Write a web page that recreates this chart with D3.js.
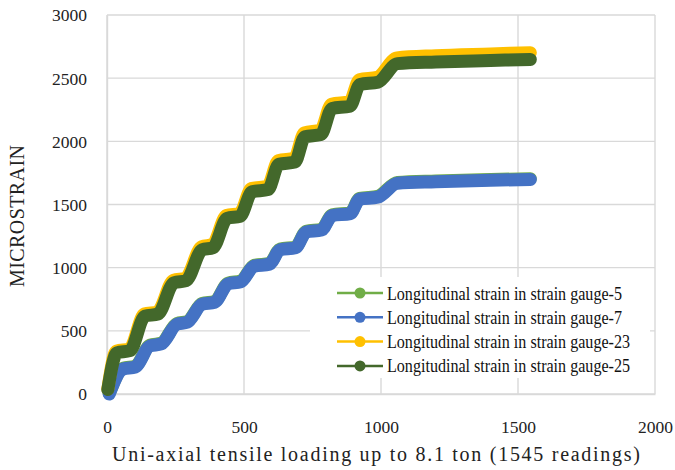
<!DOCTYPE html>
<html>
<head>
<meta charset="utf-8">
<script src="https://cdn.jsdelivr.net/npm/d3@7"></script>
<style>
  html, body { margin: 0; padding: 0; background: #fff; }
  svg { display: block; }
</style>
</head>
<body>
<svg id="chart" width="675" height="470"></svg>
<script>
// Axis ticks
const xTicks = [0, 500, 1000, 1500, 2000];
const yTicks = [0, 500, 1000, 1500, 2000, 2500, 3000];

// Strain readings: [reading number, microstrain]
const gauge5 = [[8,4],[59,204],[103,220],[157,386],[198,402],[255,558],[293,574],[347,716],[393,732],[442,878],[488,894],[537,1018],[593,1034],[632,1148],[688,1164],[727,1288],[783,1304],[822,1418],[888,1434],[922,1548],[988,1564],[1060,1675],[1200,1687],[1400,1698],[1545,1704]];
const gauge7 = [[8,0],[59,198],[103,214],[157,380],[198,396],[255,552],[293,568],[347,710],[393,726],[442,872],[488,888],[537,1012],[593,1028],[632,1142],[688,1158],[727,1282],[783,1298],[822,1412],[888,1428],[922,1542],[988,1558],[1060,1668],[1200,1680],[1400,1692],[1545,1698]];
const gauge23 = [[3,40],[34,339],[82,356],[136,633],[184,650],[242,900],[287,918],[345,1166],[385,1183],[436,1413],[484,1430],[527,1626],[586,1645],[625,1846],[684,1866],[720,2067],[779,2088],[819,2293],[885,2313],[921,2488],[987,2508],[1058,2660],[1200,2678],[1400,2692],[1545,2702]];
const gauge25 = [[3,35],[36,326],[84,343],[138,616],[186,633],[244,880],[289,897],[347,1141],[387,1158],[438,1390],[486,1407],[529,1600],[588,1618],[627,1818],[686,1836],[722,2036],[781,2054],[821,2260],[887,2278],[923,2450],[989,2468],[1060,2615],[1200,2628],[1400,2640],[1545,2648]];

const seriesNames = [
  "Longitudinal strain in strain gauge-5",
  "Longitudinal strain in strain gauge-7",
  "Longitudinal strain in strain gauge-23",
  "Longitudinal strain in strain gauge-25"
];
const seriesColors = ["#70AD47", "#4472C4", "#FFC000", "#43682B"];
const seriesData = [gauge5, gauge7, gauge23, gauge25];

const xTitle = "Uni-axial tensile loading up to 8.1 ton (1545 readings)";
const yTitle = "MICROSTRAIN";

const svg = d3.select("#chart");
const plotLeft = 107, plotRight = 655, plotTop = 15, plotBottom = 394;
const x = d3.scaleLinear().domain([0, 2000]).range([plotLeft, plotRight]);
const y = d3.scaleLinear().domain([0, 3000]).range([plotBottom, plotTop]);
const serif = "'Liberation Serif', 'Times New Roman', serif";
const gridColor = "#D9D9D9";

// Gridlines
const grid = svg.append("g");
grid.selectAll("line.h").data(yTicks).join("line")
  .attr("x1", plotLeft).attr("x2", plotRight)
  .attr("y1", d => y(d)).attr("y2", d => y(d))
  .attr("stroke", gridColor).attr("stroke-width", 1.4);
grid.selectAll("line.v").data(xTicks).join("line")
  .attr("y1", plotTop).attr("y2", plotBottom)
  .attr("x1", d => x(d)).attr("x2", d => x(d))
  .attr("stroke", gridColor).attr("stroke-width", 1.4);

// Axes (labels only, no tick marks)
const xAxis = svg.append("g").attr("transform", `translate(0,${plotBottom})`)
  .call(d3.axisBottom(x).tickValues(xTicks).tickSize(0).tickPadding(0).tickFormat(d3.format("d")));
xAxis.attr("font-family", serif);
xAxis.select(".domain").attr("stroke", gridColor).attr("stroke-width", 1.4);
xAxis.selectAll("text").attr("y", 39).attr("dy", null)
  .attr("font-family", serif).attr("font-size", 17.5).attr("fill", "#222");

const yAxis = svg.append("g").attr("transform", `translate(${plotLeft},0)`)
  .call(d3.axisLeft(y).tickValues(yTicks).tickSize(0).tickPadding(0).tickFormat(d3.format("d")));
yAxis.attr("font-family", serif);
yAxis.select(".domain").attr("stroke", gridColor).attr("stroke-width", 1.4);
yAxis.selectAll("text").attr("x", -20).attr("dy", "0.34em")
  .attr("font-family", serif).attr("font-size", 17.5).attr("fill", "#222");

// Series lines
const line = d3.line().x(d => x(d[0])).y(d => y(d[1])).curve(d3.curveMonotoneX);
svg.append("g").selectAll("path").data(seriesData).join("path")
  .attr("d", line)
  .attr("fill", "none")
  .attr("stroke", (d, i) => seriesColors[i])
  .attr("stroke-width", 13)
  .attr("stroke-linecap", "round")
  .attr("stroke-linejoin", "round");

// Legend
const legend = svg.append("g");
legend.append("rect").attr("x", 310).attr("y", 277).attr("width", 340).attr("height", 101).attr("fill", "#fff");
const rows = legend.selectAll("g.row").data(seriesNames).join("g")
  .attr("transform", (d, i) => `translate(0,${293 + i * 24.3})`);
rows.append("line").attr("x1", 337).attr("x2", 383).attr("y1", 0).attr("y2", 0)
  .attr("stroke", (d, i) => seriesColors[i]).attr("stroke-width", 2.5);
rows.append("circle").attr("cx", 360).attr("cy", 0).attr("r", 5.5)
  .attr("fill", (d, i) => seriesColors[i]);
rows.append("text").attr("x", 387).attr("y", 6.5)
  .attr("font-family", serif).attr("font-size", 18.5).attr("fill", "#111")
  .attr("textLength", (d, i) => i < 2 ? 235 : 243).attr("lengthAdjust", "spacingAndGlyphs")
  .text(d => d);

// Axis titles
svg.append("text").attr("x", 376).attr("y", 461).attr("text-anchor", "middle")
  .attr("font-family", serif).attr("font-size", 20).attr("fill", "#222")
  .attr("textLength", 528).attr("lengthAdjust", "spacing")
  .text(xTitle);
svg.append("text").attr("transform", "translate(24,216) rotate(-90)").attr("text-anchor", "middle")
  .attr("font-family", serif).attr("font-size", 20).attr("fill", "#222")
  .attr("textLength", 142).attr("lengthAdjust", "spacing")
  .text(yTitle);
</script>
</body>
</html>
